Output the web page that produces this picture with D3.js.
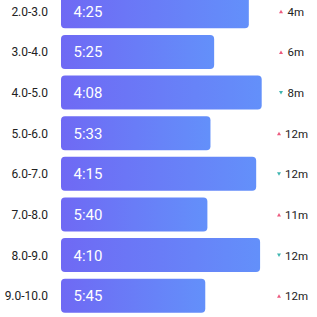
<!DOCTYPE html>
<html>
<head>
<meta charset="utf-8">
<script src="https://cdn.jsdelivr.net/npm/d3@7"></script>
<style>
html,body{margin:0;padding:0;background:#fff;overflow:hidden;}
svg{display:block;}
text{font-family:Roboto,"Noto Sans",sans-serif;}
</style>
</head>
<body>
<div id="chart"></div>
<script>
const categories = ["2.0-3.0","3.0-4.0","4.0-5.0","5.0-6.0","6.0-7.0","7.0-8.0","8.0-9.0","9.0-10.0"];
const paces = ["4:25","5:25","4:08","5:33","4:15","5:40","4:10","5:45"];
const changeDir = ["up","up","down","up","down","up","down","up"];
const changeLabels = ["4m","6m","8m","12m","12m","11m","12m","12m"];

const W = 317, H = 317;
const toSec = p => { const [m,s] = p.split(":").map(Number); return m*60+s; };
const speeds = paces.map(p => 3600/toSec(p));

const svg = d3.select("#chart").append("svg").attr("width",W).attr("height",H);
const defs = svg.append("defs");
const grad = defs.append("linearGradient").attr("id","barGrad")
  .attr("x1","0%").attr("x2","100%").attr("y1","0%").attr("y2","0%");
grad.append("stop").attr("offset","0%").attr("stop-color","#6f69f4");
grad.append("stop").attr("offset","100%").attr("stop-color","#6390fa");

const step = 40.63, p = 0.163;
const y0 = -5.7 - step*p/2;
const y = d3.scaleBand().domain(categories).range([y0, y0 + step*categories.length])
  .paddingInner(p).paddingOuter(p/2);
const x = d3.scaleLinear().domain([0, d3.max(speeds)]).range([61, 261.7]);

const rows = categories.map((c,i)=>({c, pace:paces[i], speed:speeds[i], dir:changeDir[i], ch:changeLabels[i]}));

const g = svg.selectAll("g.row").data(rows).join("g").attr("class","row");

g.append("text")
  .attr("x",48).attr("y",d=>y(d.c)+y.bandwidth()/2+0.5)
  .attr("text-anchor","end").attr("dominant-baseline","central")
  .attr("font-size",12).attr("fill","#222")
  .text(d=>d.c);

g.append("rect")
  .attr("x",x(0)).attr("y",d=>y(d.c))
  .attr("width",d=>x(d.speed)-x(0)).attr("height",y.bandwidth())
  .attr("rx",4).attr("ry",4).attr("fill","url(#barGrad)");

g.append("text")
  .attr("x",73.5).attr("y",d=>y(d.c)+y.bandwidth()/2+0.5)
  .attr("dominant-baseline","central")
  .attr("font-size",15).attr("fill","#fff")
  .text(d=>d.pace);

const rg = g.append("g").attr("transform",d=>`translate(0,${y(d.c)+y.bandwidth()/2})`);
rg.append("path")
  .attr("d",d=> d.dir==="up" ? "M279,2 L283,2 L281,-1.5 Z" : "M279,-1.5 L283,-1.5 L281,2 Z")
  .attr("transform",d=> d.ch.length>2 ? "translate(-2,0)" : null)
  .attr("fill",d=> d.dir==="up" ? "#ec5a7e" : "#3fb5b0");
rg.append("text")
  .attr("x",d=> d.ch.length>2 ? 285 : 287.5).attr("y",0.5)
  .attr("dominant-baseline","central")
  .attr("font-size",11.5).attr("fill","#222")
  .text(d=>d.ch);
</script>
</body>
</html>
